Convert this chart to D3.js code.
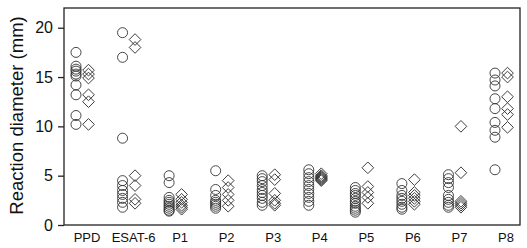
<!DOCTYPE html>
<html>
<head>
<meta charset="utf-8">
<script src="https://cdn.jsdelivr.net/npm/d3@7"></script>
<style>
  body { margin: 0; background: #fff; }
  text { font-family: Arial, "Liberation Sans", sans-serif; fill: #111; }
</style>
</head>
<body>
<div class="canvas"></div>
<script>
// categories and readings (mm), circles = first group, diamonds = second group
const categories = ['PPD', 'ESAT-6', 'P1', 'P2', 'P3', 'P4', 'P5', 'P6', 'P7', 'P8'];

const circleVals = [
  [17.5, 16.1, 15.8, 15.6, 15.3, 15.1, 14.2, 13.2, 11.1, 10.2],
  [19.5, 17.0, 8.8, 4.5, 4.0, 3.5, 3.1, 2.7, 2.3, 1.8],
  [5.0, 4.3, 2.8, 2.5, 2.3, 2.1, 1.9, 1.7, 1.5, 1.4],
  [5.5, 3.6, 3.0, 2.5, 2.3, 2.1, 1.9, 1.7],
  [5.0, 4.7, 4.4, 4.0, 3.6, 3.3, 3.0, 2.7, 2.3, 2.0],
  [5.6, 5.2, 4.8, 4.4, 4.0, 3.6, 3.2, 2.8, 2.4, 2.0],
  [3.8, 3.5, 3.2, 3.0, 2.7, 2.4, 2.2, 1.9, 1.7, 1.5, 1.3],
  [4.2, 3.5, 3.0, 2.7, 2.4, 2.1, 1.8, 1.6],
  [5.1, 4.7, 4.3, 3.8, 3.0, 2.6, 2.3, 2.0, 1.8],
  [15.4, 14.7, 14.1, 12.8, 11.8, 10.4, 9.6, 8.9, 5.6]
];

const diamondVals = [
  [15.7, 15.3, 14.9, 13.2, 12.5, 10.2],
  [18.8, 18.0, 5.0, 4.0, 2.6, 2.2],
  [3.1, 2.6, 2.3, 2.0, 1.8, 1.6],
  [4.5, 3.8, 3.1, 2.5, 1.9],
  [5.1, 4.6, 3.2, 2.5, 2.2, 2.0],
  [5.2, 5.0, 4.9, 4.8, 4.7, 4.6, 4.5],
  [5.8, 3.9, 3.3, 2.8, 2.2],
  [4.6, 3.3, 3.0, 2.7, 2.4, 2.1],
  [10.0, 5.3, 2.4, 2.2, 2.0, 1.8],
  [15.4, 15.0, 13.0, 11.8, 11.2, 9.9]
];

const yTicks = [0, 5, 10, 15, 20];

const dims = {width: 527, height: 248};
const frame = {left: 64, right: 520, top: 8, bottom: 225};

const svg = d3.select('.canvas')
  .append('svg')
    .attr('width', dims.width)
    .attr('height', dims.height);

const y = d3.scaleLinear()
  .domain([0, 22])
  .range([frame.bottom, frame.top]);

const x = d3.scalePoint()
  .domain(categories)
  .range([82, 501]);

// frame
svg.append('rect')
  .attr('x', frame.left)
  .attr('y', frame.top)
  .attr('width', frame.right - frame.left)
  .attr('height', frame.bottom - frame.top)
  .attr('fill', 'none')
  .attr('stroke', '#222')
  .attr('stroke-width', 1.3);

// y axis
const yAxis = d3.axisLeft(y)
  .tickValues(yTicks)
  .tickSize(6)
  .tickPadding(5)
  .tickFormat(d3.format('d'));

const yg = svg.append('g')
  .attr('transform', `translate(${frame.left},0)`)
  .call(yAxis);
yg.select('.domain').remove();
yg.selectAll('line').attr('stroke', '#222').attr('stroke-width', 1.3);
yg.selectAll('text')
  .style('font-size', '16px')
  .style('font-family', 'Arial, "Liberation Sans", sans-serif')
  .attr('fill', '#111');

svg.append('text')
  .attr('transform', `translate(23, ${(frame.top + frame.bottom) / 2 - 1}) rotate(-90)`)
  .attr('text-anchor', 'middle')
  .style('font-size', '18.5px')
  .text('Reaction diameter (mm)');

// x labels
svg.selectAll('.xlab')
  .data(categories)
  .enter().append('text')
    .attr('class', 'xlab')
    .attr('x', d => x(d) + 5)
    .attr('y', 242)
    .attr('text-anchor', 'middle')
    .style('font-size', '13px')
    .text(d => d);

const graph = svg.append('g');

// circles
categories.forEach((c, i) => {
  graph.selectAll(`.circ${i}`)
    .data(circleVals[i])
    .enter().append('circle')
      .attr('class', `circ${i}`)
      .attr('cx', x(c) - 6)
      .attr('cy', d => y(d))
      .attr('r', 5)
      .attr('fill', 'none')
      .attr('stroke', '#333')
      .attr('stroke-width', 0.9);
});

// diamonds
const diamond = d3.symbol().type(d3.symbolSquare).size(68);

categories.forEach((c, i) => {
  graph.selectAll(`.diam${i}`)
    .data(diamondVals[i])
    .enter().append('path')
      .attr('class', `diam${i}`)
      .attr('d', diamond)
      .attr('transform', d => `translate(${x(c) + 6.5},${y(d)}) rotate(45)`)
      .attr('fill', 'none')
      .attr('stroke', '#333')
      .attr('stroke-width', 0.9);
});
</script>
</body>
</html>
